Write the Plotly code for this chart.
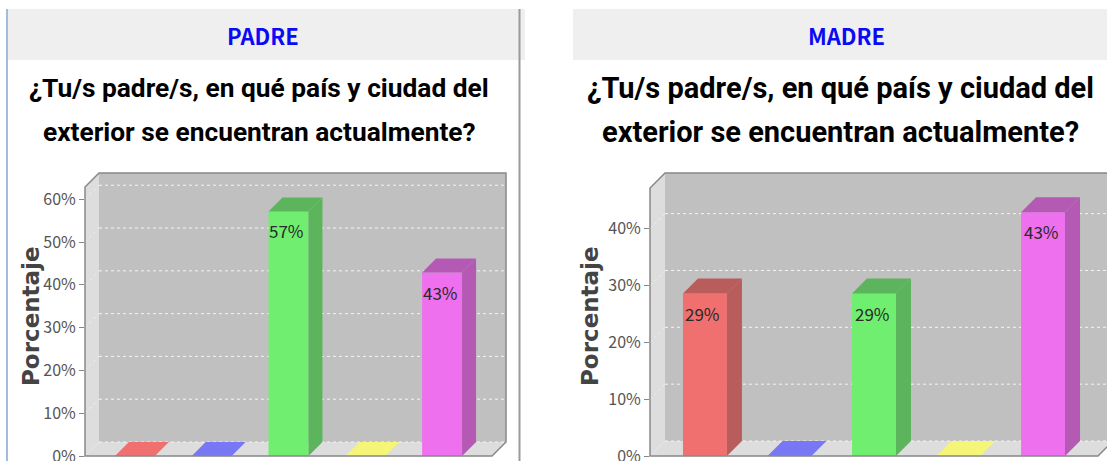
import plotly.graph_objects as go

W, H = 1107, 461

# ---------------- data ----------------
categories = ["Opción 1", "Opción 2", "Opción 3", "Opción 4", "Opción 5"]
padre_values = [0, 0, 57.14, 0, 42.86]
madre_values = [28.57, 0, 28.57, 0, 42.86]
padre_ticks = [0, 10, 20, 30, 40, 50, 60]
madre_ticks = [0, 10, 20, 30, 40]
front_colors = ["#f07070", "#7878f5", "#70ee70", "#f5f578", "#ee70ee"]
shade_colors = ["#b85c5c", "#5c5cb8", "#5cb45c", "#b4b45c", "#b45ab4"]
header_texts = ["PADRE", "MADRE"]
title_line1 = "¿Tu/s padre/s, en qué país y ciudad del"
title_line2 = "exterior se encuentran actualmente?"
y_title = "Porcentaje"

TITLE_FONT = "Roboto"
TITLE_SIZES = [26.3, 29]
HEADER_FONT = "Noto Sans CJK SC"
NARROW = "Noto Sans CJK SC"

panels = [
    dict(values=padre_values, ticks=padre_ticks, ax=85, base=456, top=187, right=492,
         dx=14, dy=14, xa="x", ya="y", band=(8, 525), hcenter=263, tcenter=259, ytx=31),
    dict(values=madre_values, ticks=madre_ticks, ax=650, base=456, top=188, right=1098,
         dx=15, dy=15, xa="x2", ya="y2", band=(573, 1107), hcenter=846, tcenter=840, ytx=590),
]

fig = go.Figure()
shapes, annotations = [], []


def px(x):
    return x / W


def py(y):
    return 1 - y / H


R0, R1F = -0.65, 4.65
BAR_W = 0.52

for k, pn in enumerate(panels):
    vals = pn["values"]
    vmax = 1.1 * max(vals)
    p = (pn["base"] - pn["top"]) / vmax
    s = (pn["right"] - pn["ax"]) / (R1F - R0)
    dom_right = min(pn["right"] + pn["dx"], W)
    xr1 = R0 + (dom_right - pn["ax"]) / s
    dxd = pn["dx"] / s
    dyd = pn["dy"] / p
    yr1 = vmax + dyd
    xa, ya = pn["xa"], pn["ya"]
    xkey = "xaxis" if xa == "x" else "xaxis2"
    ykey = "yaxis" if ya == "y" else "yaxis2"

    fig.update_layout(**{
        xkey: dict(domain=[px(pn["ax"]), px(dom_right)], range=[R0, xr1], visible=False,
                   anchor=ya, fixedrange=True, automargin=False),
        ykey: dict(domain=[py(pn["base"]), py(pn["top"] - pn["dy"])], range=[0, yr1],
                   anchor=xa, showgrid=False, zeroline=False, showline=False,
                   tickvals=pn["ticks"], ticktext=[f"{t}%" for t in pn["ticks"]],
                   ticks="outside", ticklen=5, tickcolor="#888888", tickwidth=1,
                   ticklabeloverflow="allow", automargin=False,
                   tickfont=dict(family=NARROW, size=16, color="#555555"), fixedrange=True),
    })

    # walls / floor (data coords, below traces)
    shapes.append(dict(type="rect", xref=xa, yref=ya, x0=R0 + dxd, x1=R1F + dxd, y0=dyd,
                       y1=vmax + dyd, fillcolor="#c0c0c0", line=dict(width=0), layer="below"))
    shapes.append(dict(type="path", xref=xa, yref=ya,
                       path=f"M {R0},0 L {R0},{vmax} L {R0 + dxd},{vmax + dyd} L {R0 + dxd},{dyd} Z",
                       fillcolor="#dddddd", line=dict(width=0), layer="below"))
    shapes.append(dict(type="path", xref=xa, yref=ya,
                       path=f"M {R0},0 L {R1F},0 L {R1F + dxd},{dyd} L {R0 + dxd},{dyd} Z",
                       fillcolor="#dddddd", line=dict(width=0), layer="below"))
    for t in pn["ticks"]:
        shapes.append(dict(type="line", xref=xa, yref=ya, x0=R0 + dxd, x1=R1F + dxd,
                           y0=t + dyd, y1=t + dyd, line=dict(color="#f4f4f4", width=1, dash="dot"),
                           layer="below"))
        if t > 0:
            shapes.append(dict(type="line", xref=xa, yref=ya, x0=R0, x1=R0 + dxd,
                               y0=t, y1=t + dyd, line=dict(color="#efefef", width=1, dash="dot"),
                               layer="below"))

    # outlines (domain coords, not clipped)
    def fx(x):
        return (x - R0) / (xr1 - R0)

    def fy(y):
        return y / yr1

    xd, yd = f"{xa} domain", f"{ya} domain"
    outline = dict(color="#888888", width=1.5)
    shapes.append(dict(type="path", xref=xd, yref=yd, layer="above", line=outline,
                       path=(f"M {fx(R0)},{fy(0)} L {fx(R0)},{fy(vmax)} "
                             f"L {fx(R0 + dxd)},{fy(vmax + dyd)} L {fx(R1F + dxd)},{fy(vmax + dyd)} "
                             f"L {fx(R1F + dxd)},{fy(dyd)} L {fx(R1F)},{fy(0)} Z")))

    # bars: front faces
    xs = list(range(len(vals)))
    fig.add_trace(go.Bar(x=xs, y=vals, width=BAR_W, marker=dict(color=front_colors, line=dict(width=0)),
                         xaxis=xa, yaxis=ya, hoverinfo="skip", showlegend=False,
                         customdata=categories))
    # bars: side / top faces
    for i, v in enumerate(vals):
        x0, x1 = i - BAR_W / 2, i + BAR_W / 2
        if v > 0:
            fig.add_trace(go.Scatter(x=[x1, x1 + dxd, x1 + dxd, x1, x1], y=[0, dyd, v + dyd, v, 0],
                                     fill="toself", mode="lines", line=dict(width=0),
                                     fillcolor=shade_colors[i], xaxis=xa, yaxis=ya,
                                     hoverinfo="skip", showlegend=False))
        topc = shade_colors[i] if v > 0 else front_colors[i]
        fig.add_trace(go.Scatter(x=[x0, x0 + dxd, x1 + dxd, x1, x0], y=[v, v + dyd, v + dyd, v, v],
                                 fill="toself", mode="lines", line=dict(width=0),
                                 fillcolor=topc, xaxis=xa, yaxis=ya,
                                 hoverinfo="skip", showlegend=False))
        if v > 0:
            annotations.append(dict(xref=xa, yref=ya, x=i, y=v, yanchor="top", xanchor="center",
                                    yshift=-5, xshift=-2, showarrow=False, text=f"{round(v)}%",
                                    font=dict(family=NARROW, size=17, color="#2a2a2a")))

    # header band
    b0, b1 = pn["band"]
    shapes.append(dict(type="rect", xref="paper", yref="paper", x0=px(b0), x1=px(b1),
                       y0=py(60), y1=py(9), fillcolor="#efefef", line=dict(width=0), layer="below"))
    annotations.append(dict(xref="paper", yref="paper", x=px(pn["hcenter"]), y=py(35),
                            xanchor="center", yanchor="middle", showarrow=False,
                            text=header_texts[k],
                            font=dict(family=HEADER_FONT, size=22, color="#0a0af5", weight="bold")))
    annotations.append(dict(xref="paper", yref="paper", x=px(pn["tcenter"]), y=py(88),
                            xanchor="center", yanchor="middle", showarrow=False, text=title_line1,
                            font=dict(family=TITLE_FONT, size=TITLE_SIZES[k], color="#000000",
                                      weight="bold")))
    annotations.append(dict(xref="paper", yref="paper", x=px(pn["tcenter"]), y=py(132),
                            xanchor="center", yanchor="middle", showarrow=False, text=title_line2,
                            font=dict(family=TITLE_FONT, size=TITLE_SIZES[k], color="#000000",
                                      weight="bold")))
    annotations.append(dict(xref="paper", yref="paper", x=px(pn["ytx"]), y=py(316),
                            xanchor="center", yanchor="middle", showarrow=False, text=y_title,
                            textangle=-90,
                            font=dict(family="DejaVu Sans", size=23, color="#444444", weight="bold")))

# panel border lines
shapes.append(dict(type="line", xref="paper", yref="paper", x0=px(7), x1=px(7), y0=py(9), y1=py(461),
                   line=dict(color="#a4bcdc", width=2), layer="above"))
shapes.append(dict(type="line", xref="paper", yref="paper", x0=px(519.5), x1=px(519.5), y0=py(9),
                   y1=py(461), line=dict(color="#9a9a9a", width=2), layer="above"))

fig.update_layout(width=W, height=H, margin=dict(l=0, r=0, t=0, b=0, autoexpand=False),
                  paper_bgcolor="white", plot_bgcolor="rgba(0,0,0,0)",
                  shapes=shapes, annotations=annotations, barmode="overlay", showlegend=False)

fig.write_html("out.html", config={"displayModeBar": False},
               post_script="document.body.style.margin='0';document.body.style.overflow='hidden';")
